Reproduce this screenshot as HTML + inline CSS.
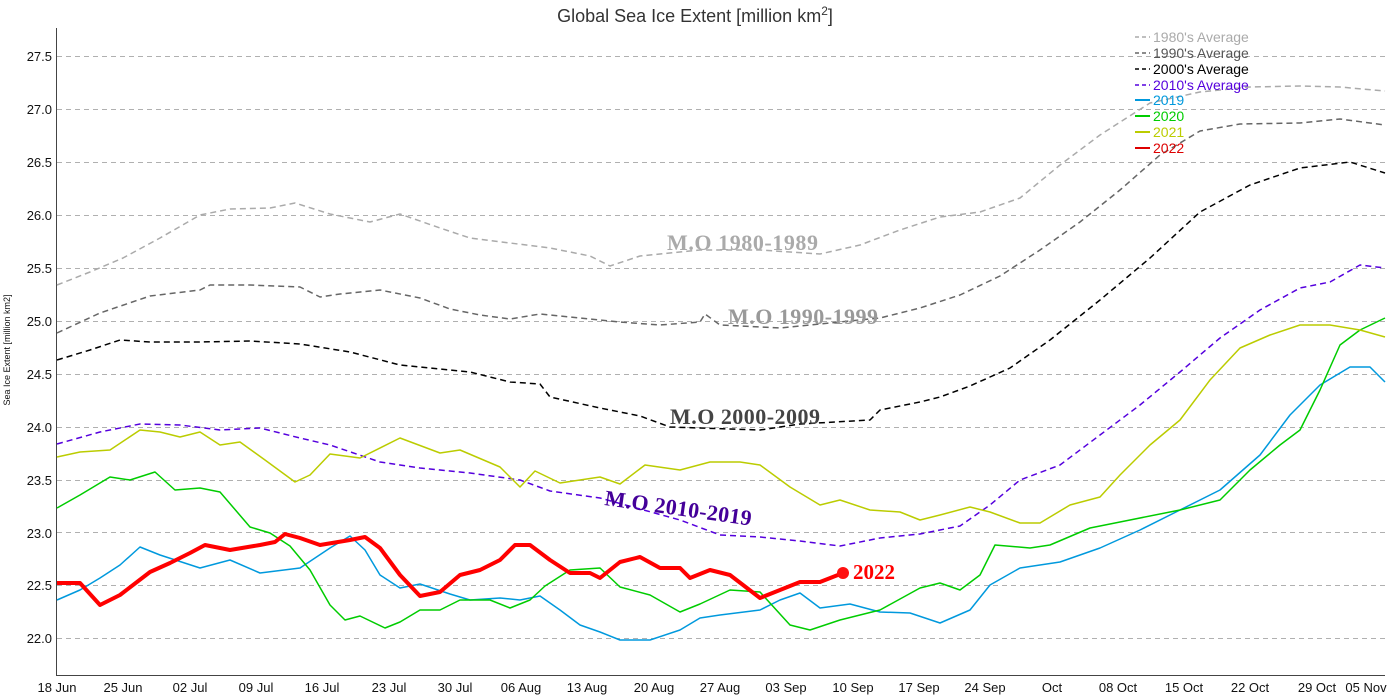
<!DOCTYPE html>
<html><head><meta charset="utf-8"><style>body{margin:0;background:#fff}svg{display:block}</style></head><body>
<svg width="1391" height="696" xmlns="http://www.w3.org/2000/svg" font-family="Liberation Sans, sans-serif">
<rect width="1391" height="696" fill="#fff"/>
<text x="695" y="22" text-anchor="middle" font-size="18" fill="#333">Global Sea Ice Extent [million km<tspan dy="-7" font-size="12">2</tspan><tspan dy="7">]</tspan></text>
<g stroke="#b0b0b0" stroke-dasharray="5,4" stroke-width="1">
<line x1="57" x2="1385" y1="56.5" y2="56.5"/><line x1="57" x2="1385" y1="109.5" y2="109.5"/><line x1="57" x2="1385" y1="162.5" y2="162.5"/><line x1="57" x2="1385" y1="215.5" y2="215.5"/><line x1="57" x2="1385" y1="268.5" y2="268.5"/><line x1="57" x2="1385" y1="321.5" y2="321.5"/><line x1="57" x2="1385" y1="374.5" y2="374.5"/><line x1="57" x2="1385" y1="427.5" y2="427.5"/><line x1="57" x2="1385" y1="480.5" y2="480.5"/><line x1="57" x2="1385" y1="532.5" y2="532.5"/><line x1="57" x2="1385" y1="585.5" y2="585.5"/><line x1="57" x2="1385" y1="638.5" y2="638.5"/>
</g>
<line x1="56.5" y1="28" x2="56.5" y2="675" stroke="#444"/>
<line x1="56" y1="675.5" x2="1385" y2="675.5" stroke="#444"/>
<g font-size="13" text-anchor="end" fill="#111">
<text x="52" y="61">27.5</text><text x="52" y="114">27.0</text><text x="52" y="167">26.5</text><text x="52" y="220">26.0</text><text x="52" y="273">25.5</text><text x="52" y="326">25.0</text><text x="52" y="379">24.5</text><text x="52" y="432">24.0</text><text x="52" y="485">23.5</text><text x="52" y="538">23.0</text><text x="52" y="590">22.5</text><text x="52" y="643">22.0</text>
</g>
<text transform="translate(10,350) rotate(-90)" font-size="9" text-anchor="middle" fill="#111">Sea Ice Extent [million km2]</text>
<g font-size="13" text-anchor="middle" fill="#111">
<text x="57" y="692">18 Jun</text><text x="123" y="692">25 Jun</text><text x="190" y="692">02 Jul</text><text x="256" y="692">09 Jul</text><text x="322" y="692">16 Jul</text><text x="389" y="692">23 Jul</text><text x="455" y="692">30 Jul</text><text x="521" y="692">06 Aug</text><text x="587" y="692">13 Aug</text><text x="654" y="692">20 Aug</text><text x="720" y="692">27 Aug</text><text x="786" y="692">03 Sep</text><text x="853" y="692">10 Sep</text><text x="919" y="692">17 Sep</text><text x="985" y="692">24 Sep</text><text x="1052" y="692">Oct</text><text x="1118" y="692">08 Oct</text><text x="1184" y="692">15 Oct</text><text x="1250" y="692">22 Oct</text><text x="1317" y="692">29 Oct</text><text x="1366" y="692">05 Nov</text>
</g>
<g fill="none" stroke-linejoin="round">
<polyline stroke="#aaa" stroke-width="1.5" stroke-dasharray="6,4" points="57,285 90,272 123,258 160,238 200,215 230,209 270,208 295,203 330,214 370,222 400,214 440,228 470,238 510,243 550,248 590,256 610,266 640,256 700,250 760,250 820,254 860,245 900,230 940,217 980,212 1020,198 1060,165 1100,135 1150,103 1200,92 1250,87 1300,86 1340,87 1385,91"/>
<polyline stroke="#666" stroke-width="1.5" stroke-dasharray="6,4" points="57,333 100,313 150,296 200,290 210,285 250,285 300,287 320,297 340,294 380,290 420,298 450,309 480,315 510,319 540,314 580,318 620,322 660,325 700,322 705,314 720,325 780,328 840,322 880,318 920,308 960,295 1000,276 1040,250 1080,222 1120,190 1160,155 1200,131 1240,124 1300,123 1340,119 1385,125"/>
<polyline stroke="#000" stroke-width="1.5" stroke-dasharray="6,4" points="57,360 90,350 120,340 150,342 200,342 250,341 300,344 350,352 400,365 450,370 470,372 510,382 540,384 550,397 600,408 640,416 670,427 700,428 760,430 800,424 870,420 880,410 920,402 940,397 970,386 1010,368 1050,340 1100,300 1150,258 1200,212 1250,185 1300,168 1350,162 1385,173"/>
<polyline stroke="#5500dd" stroke-width="1.5" stroke-dasharray="6,4" points="57,444 100,432 140,424 180,425 220,430 260,428 300,438 330,445 380,462 420,468 470,473 520,480 550,491 600,498 640,509 680,520 720,535 760,537 800,541 840,546 880,538 920,534 960,526 990,505 1020,480 1060,465 1100,435 1140,405 1180,372 1220,338 1260,310 1300,288 1330,282 1360,265 1385,268"/>
<polyline stroke="#0099dd" stroke-width="1.5" points="57,600 80,590 100,578 120,565 140,547 160,555 200,568 230,560 260,573 300,568 330,548 350,536 365,550 380,575 400,588 420,584 450,594 470,600 500,598 520,600 540,596 560,610 580,625 600,632 620,640 650,640 680,630 700,618 720,615 760,610 780,600 800,593 820,608 850,604 880,612 910,613 940,623 970,610 990,585 1020,568 1060,562 1100,548 1140,530 1180,510 1220,490 1260,455 1290,415 1320,385 1350,367 1370,367 1385,382"/>
<polyline stroke="#00cc00" stroke-width="1.5" points="57,508 80,495 110,477 130,480 155,472 175,490 200,488 220,492 250,527 270,533 290,546 310,570 330,605 345,620 360,616 385,628 400,622 420,610 440,610 460,600 490,600 510,608 530,600 545,586 570,570 600,568 620,587 650,595 680,612 700,604 730,590 760,592 790,625 810,630 840,620 880,610 920,588 940,583 960,590 980,575 995,545 1030,548 1050,545 1090,528 1130,520 1180,510 1220,500 1250,470 1280,445 1300,430 1320,390 1340,345 1360,330 1385,318"/>
<polyline stroke="#bbcc00" stroke-width="1.5" points="57,457 80,452 110,450 125,440 140,430 160,432 180,437 200,432 220,445 240,442 265,460 295,482 310,475 330,454 360,458 400,438 440,453 460,450 500,467 520,487 535,471 560,483 600,477 620,484 645,465 680,470 710,462 740,462 760,465 790,487 820,505 840,500 870,510 900,512 920,520 940,515 970,507 990,512 1020,523 1040,523 1070,505 1100,497 1120,475 1150,445 1180,420 1210,380 1240,348 1270,335 1300,325 1330,325 1360,330 1385,337"/>
<polyline stroke="#ff0000" stroke-width="4" points="57,583 80,583 100,605 120,595 150,572 170,563 190,553 205,545 230,550 260,545 275,542 285,534 300,538 320,545 350,540 365,537 380,548 400,575 420,596 440,592 460,575 480,570 500,560 515,545 530,545 550,560 570,573 590,573 600,578 620,562 640,557 660,568 680,568 690,578 710,570 730,575 760,598 780,590 800,582 820,582 843,573"/>
</g>
<circle cx="843" cy="573" r="6" fill="#ff1010"/>
<g font-family="Liberation Serif, serif" font-weight="bold" font-size="21">
<text x="853" y="579" fill="#ff0000">2022</text>
</g>
<g font-family="Liberation Serif, serif" font-weight="bold" font-size="22">
<text x="667" y="250" fill="#aaa" textLength="151">M.O 1980-1989</text>
<text x="728" y="324" fill="#999" textLength="150">M.O 1990-1999</text>
<text x="670" y="424" fill="#444" textLength="150">M.O 2000-2009</text>
<text x="604" y="505" fill="#440099" transform="rotate(8 604 505)" textLength="148">M.O 2010-2019</text>
</g>
<g font-size="14">
<line x1="1135" x2="1150" y1="37" y2="37" stroke="#aaa" stroke-width="1.5" stroke-dasharray="4,3"/><text x="1153" y="42" fill="#aaa">1980's Average</text>
<line x1="1135" x2="1150" y1="53" y2="53" stroke="#666" stroke-width="1.5" stroke-dasharray="4,3"/><text x="1153" y="58" fill="#555">1990's Average</text>
<line x1="1135" x2="1150" y1="69" y2="69" stroke="#000" stroke-width="1.5" stroke-dasharray="4,3"/><text x="1153" y="74" fill="#000">2000's Average</text>
<line x1="1135" x2="1150" y1="85" y2="85" stroke="#5500dd" stroke-width="1.5" stroke-dasharray="4,3"/><text x="1153" y="90" fill="#5500dd">2010's Average</text>
<line x1="1135" x2="1150" y1="100" y2="100" stroke="#0099dd" stroke-width="2"/><text x="1153" y="105" fill="#0099dd">2019</text>
<line x1="1135" x2="1150" y1="116" y2="116" stroke="#00cc00" stroke-width="2"/><text x="1153" y="121" fill="#00cc00">2020</text>
<line x1="1135" x2="1150" y1="132" y2="132" stroke="#bbcc00" stroke-width="2"/><text x="1153" y="137" fill="#bbcc00">2021</text>
<line x1="1135" x2="1150" y1="148" y2="148" stroke="#dd0000" stroke-width="2"/><text x="1153" y="153" fill="#dd0000">2022</text>
</g>
</svg>
</body></html>
